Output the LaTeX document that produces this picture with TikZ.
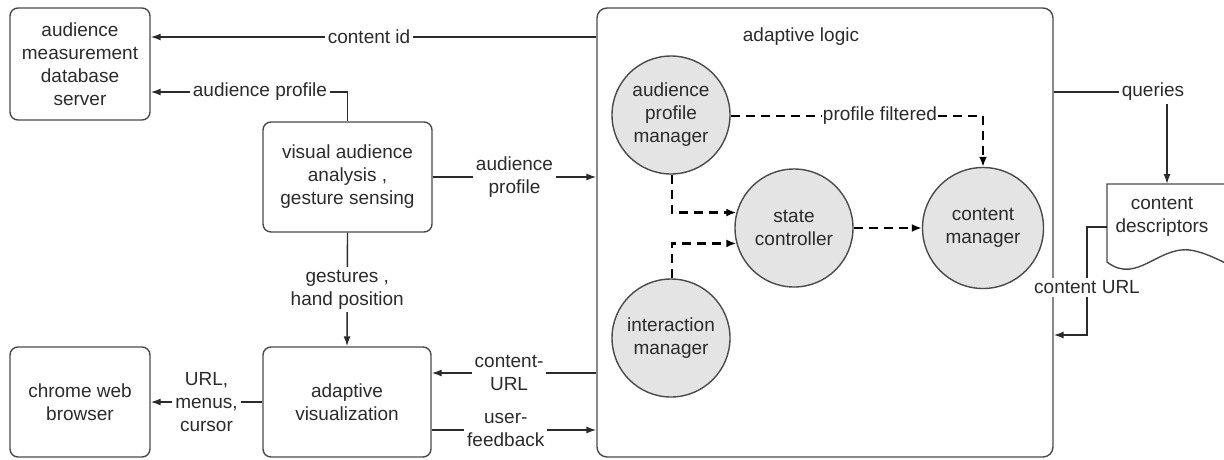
\documentclass[tikz,border=0pt]{standalone}
\usepackage{fontspec}
\setmainfont{Liberation Sans}
\usetikzlibrary{arrows.meta}
\definecolor{ink}{HTML}{2B2B2B}
\definecolor{edge}{HTML}{4A4A4A}
\definecolor{bubble}{HTML}{E4E4E4}
\begin{document}
\begin{tikzpicture}[x=1pt,y=-1pt,
  every node/.style={font=\fontsize{19}{23}\selectfont, text=ink},
  box/.style={draw=edge, line width=1.4pt, rounded corners=8pt, align=center, inner sep=0pt},
  bub/.style={circle, draw=edge, line width=1.4pt, fill=bubble, align=center, inner sep=0pt, minimum size=118pt},
  lbl/.style={fill=white, inner sep=3pt, align=center},
  conn/.style={draw=ink, line width=1.4pt},
  arr/.style={conn, -{Latex[length=10pt,width=7pt]}},
  dsh/.style={draw=black, line width=2.4pt, dash pattern=on 9pt off 6pt, -{Latex[length=10pt,width=8pt]}},
]
\path[use as bounding box] (0,0) rectangle (1224,459);

% outer block
\node[box, rounded corners=10pt, minimum width=456pt, minimum height=449pt] (logic) at (825,232.5) {};
\node (title) at (801,37) {adaptive logic};

% boxes on the left
\node[box, minimum width=140pt, minimum height=112pt] (db) at (80,64) {audience\\measurement\\database\\server};
\node[box, minimum width=169pt, minimum height=110pt] (vis) at (347.5,177) {visual audience\\analysis ,\\gesture sensing};
\node[box, minimum width=140pt, minimum height=110pt] (chrome) at (80,402) {chrome web\\browser};
\node[box, minimum width=168pt, minimum height=110pt] (adv) at (347,402) {adaptive\\visualization};

% managers inside the adaptive logic
\node[bub] (apm) at (671,115) {audience\\profile\\manager};
\node[bub] (sc) at (794,228) {state\\controller};
\node[bub, minimum size=121pt] (cm) at (983,228) {content\\manager};
\node[bub] (im) at (671,338) {interaction\\manager};

% content descriptors document
\coordinate (docTop) at (1167,184);
\coordinate (docW) at (1107,227);
\draw[draw=edge, line width=1.4pt, fill=white]
  (1240,184) -- (1107,184) -- (1107,262)
  .. controls (1138,286) and (1160,242) .. (1195,251)
  .. controls (1212,255) and (1226,264) .. (1240,270);
\node[align=center] (desc) at (1162,217) {content\\descriptors};

% solid connectors
\draw[arr] (logic.west |- 0,37) -- node[lbl, pos=0.51]{content id} (db.east |- 0,37);
\node[lbl] (aplbl) at (260,92) {audience profile};
\draw[conn] (vis.north) |- (aplbl.east);
\draw[arr] (aplbl.west) -- (db.east |- aplbl);
\draw[arr] (vis.east) -- node[lbl]{audience\\profile} (logic.west |- vis.east);
\draw[arr] (vis.south) -- node[lbl]{gestures ,\\hand position} (adv.north);
\draw[arr] (logic.west |- 0,373) -- node[lbl, pos=0.53]{content-\\URL} (adv.east |- 0,373);
\draw[arr] (adv.east |- 0,430) -- node[lbl, pos=0.45]{user-\\feedback} (logic.west |- 0,430);
\draw[arr] (adv.west) -- node[lbl]{URL,\\menus,\\cursor} (chrome.east |- adv.west);

\node[lbl] (qlbl) at (1153,92) {queries};
\draw[conn] (logic.east |- qlbl) -- (qlbl.west);
\draw[arr] (qlbl.south -| docTop) -- (docTop);
\draw[arr] (docW) -- ++(-20,0) |- node[lbl, pos=0.28]{content URL} (logic.east |- 0,335);

% dashed flows between managers
\node[lbl, inner sep=1pt] (pflbl) at (880,116) {profile filtered};
\draw[dsh, -] (apm.east |- pflbl) -- (pflbl.west);
\draw[dsh] (pflbl.east) -| (cm.north);
\draw[dsh] (apm.south -| 672,0) |- (sc.165);
\draw[dsh] (im.north -| 672,0) |- (sc.195);
\draw[dsh] (sc.east) -- (cm.west);
\end{tikzpicture}
\end{document}
